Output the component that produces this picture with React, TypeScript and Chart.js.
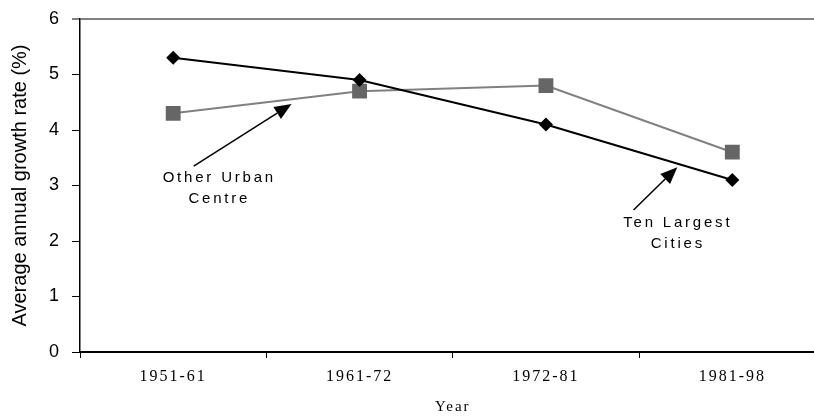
import React, { useEffect, useRef } from 'react';
import { Chart, registerables } from 'chart.js';

Chart.register(...registerables);

const categories = ['1951-61', '1961-72', '1972-81', '1981-98'];
const tenLargestCities = [5.3, 4.9, 4.1, 3.1];
const otherUrbanCentre = [4.3, 4.7, 4.8, 3.6];
const yAxisTitle = 'Average annual growth rate (%)';
const xAxisTitle = 'Year';

// Callouts (positions in data units: x = category index, y = value)
const callouts = [
  {
    lines: ['Other Urban', 'Centre'],
    textX: 0.24,
    textY: [3.14, 2.76],
    from: { x: 0.11, y: 3.35 },
    to: { x: 0.635, y: 4.47 },
  },
  {
    lines: ['Ten Largest', 'Cities'],
    textX: 2.7,
    textY: [2.32, 1.95],
    from: { x: 2.47, y: 2.56 },
    to: { x: 2.705, y: 3.33 },
  },
];

export default function App() {
  const ref = useRef<HTMLCanvasElement>(null);

  useEffect(() => {
    const canvas = ref.current!;

    const spacingPlugin = {
      id: 'spacingAndCallouts',
      beforeDraw(chart: any) {
        chart.ctx.letterSpacing = '2px';
      },
      beforeDatasetsDraw(chart: any) {
        chart.ctx.letterSpacing = '0px';
      },
      afterDraw(chart: any) {
        const ctx = chart.ctx as CanvasRenderingContext2D;
        const xs = chart.scales.x;
        const ys = chart.scales.y;
        ctx.save();
        for (const c of callouts) {
          const x1 = xs.getPixelForValue(c.from.x);
          const y1 = ys.getPixelForValue(c.from.y);
          const x2 = xs.getPixelForValue(c.to.x);
          const y2 = ys.getPixelForValue(c.to.y);
          const ang = Math.atan2(y2 - y1, x2 - x1);
          const headLen = 17;
          const headHalf = 7;
          const bx = x2 - headLen * Math.cos(ang);
          const by = y2 - headLen * Math.sin(ang);
          ctx.strokeStyle = '#000';
          ctx.lineWidth = 1.5;
          ctx.beginPath();
          ctx.moveTo(x1, y1);
          ctx.lineTo(bx, by);
          ctx.stroke();
          ctx.fillStyle = '#000';
          ctx.beginPath();
          ctx.moveTo(x2, y2);
          ctx.lineTo(bx + headHalf * Math.sin(ang), by - headHalf * Math.cos(ang));
          ctx.lineTo(bx - headHalf * Math.sin(ang), by + headHalf * Math.cos(ang));
          ctx.closePath();
          ctx.fill();

          ctx.font = '15px "Liberation Sans", Arial, sans-serif';
          (ctx as any).letterSpacing = '2.8px';
          ctx.textAlign = 'center';
          ctx.textBaseline = 'middle';
          const tx = xs.getPixelForValue(c.textX) + 1.4;
          c.lines.forEach((line, i) => {
            ctx.fillText(line, tx, ys.getPixelForValue(c.textY[i]));
          });
        }
        ctx.restore();
        (ctx as any).letterSpacing = '0px';
      },
    };

    const chart = new Chart(canvas, {
      type: 'line',
      data: {
        labels: categories,
        datasets: [
          {
            label: 'Ten Largest Cities',
            data: tenLargestCities,
            borderColor: '#000000',
            backgroundColor: '#000000',
            borderWidth: 2,
            pointStyle: 'rectRot',
            pointRadius: 7,
            pointBorderWidth: 0,
            tension: 0,
          },
          {
            label: 'Other Urban Centre',
            data: otherUrbanCentre,
            borderColor: '#808080',
            backgroundColor: '#666666',
            borderWidth: 2,
            pointStyle: 'rect',
            pointRadius: 10.5,
            pointBorderWidth: 0,
            tension: 0,
          },
        ],
      },
      options: {
        animation: false,
        responsive: false,
        devicePixelRatio: 1,
        layout: { padding: { top: 19, left: 0, right: 0, bottom: 0 } },
        plugins: {
          legend: { display: false },
          tooltip: { enabled: false },
        },
        scales: {
          x: {
            type: 'category',
            offset: true,
            afterFit: (s: any) => {
              s.height = 64;
              s.paddingLeft = 0;
              s.paddingRight = 0;
              s.paddingTop = 0;
              s.paddingBottom = 0;
            },
            grid: {
              offset: true,
              drawOnChartArea: false,
              color: 'rgba(0,0,0,0)',
              tickColor: '#000',
              tickLength: 6,
              tickWidth: 1,
              z: -1,
            },
            border: { color: '#000', width: 2 },
            ticks: {
              color: '#000',
              font: { family: '"Liberation Serif", "Times New Roman", serif', size: 16 },
              padding: 9,
              maxRotation: 0,
              autoSkip: false,
            },
            title: {
              display: true,
              text: xAxisTitle,
              color: '#000',
              font: { family: '"Liberation Serif", "Times New Roman", serif', size: 15 },
              padding: { top: 0, bottom: 0 },
            },
          },
          y: {
            min: 0,
            max: 6,
            afterFit: (s: any) => {
              s.width = 80;
              s.paddingLeft = 0;
              s.paddingRight = 0;
              s.paddingTop = 0;
              s.paddingBottom = 0;
            },
            ticks: {
              stepSize: 1,
              color: '#000',
              font: { family: '"Liberation Sans", Arial, sans-serif', size: 18 },
              padding: 13,
              z: 1,
            },
            grid: {
              color: (c: any) => (c.tick && c.tick.value === 6 ? '#808080' : 'rgba(0,0,0,0)'),
              lineWidth: (c: any) => (c.tick && c.tick.value === 6 ? 2 : 1),
              tickColor: '#000',
              tickWidth: 1,
              tickLength: 8,
              z: 1,
            },
            border: { color: '#000', width: 1.5, z: 1 },
            title: {
              display: true,
              text: yAxisTitle,
              color: '#000',
              font: { family: '"Liberation Sans", Arial, sans-serif', size: 20 },
              padding: { top: 8, bottom: 0 },
            },
          },
        },
      },
      plugins: [spacingPlugin],
    } as any);

    return () => chart.destroy();
  }, []);

  return (
    <div
      style={{
        position: 'fixed',
        left: 0,
        top: 0,
        width: 814,
        height: 416,
        overflow: 'hidden',
        background: '#fff',
      }}
    >
      <canvas ref={ref} width={836} height={416} style={{ display: 'block', width: 836, height: 416 }} />
    </div>
  );
}
